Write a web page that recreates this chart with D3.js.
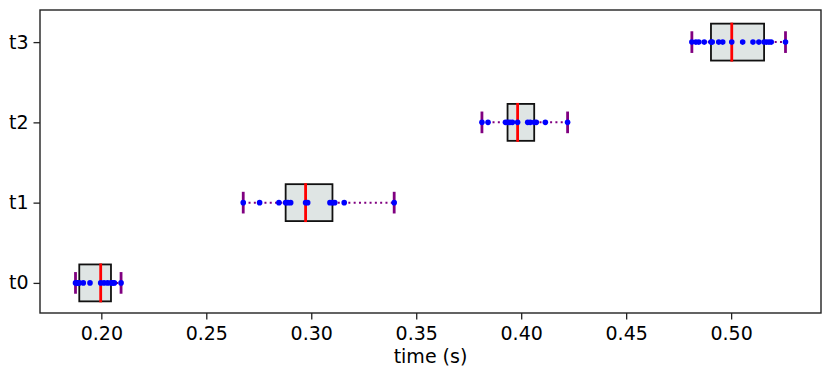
<!DOCTYPE html>
<html>
<head>
<meta charset="utf-8">
<script src="https://cdn.jsdelivr.net/npm/d3@7"></script>
<style>
  body { margin: 0; background: #fff; }
  svg text { font-family: "DejaVu Sans", sans-serif; }
</style>
</head>
<body>
<div id="chart"></div>
<script>
// categories (y axis) and the measured run times for each
var categories = ["t0", "t1", "t2", "t3"];

var t0 = [0.1877, 0.1883, 0.1889, 0.1895, 0.1914, 0.1946, 0.1997, 0.2013, 0.2030, 0.2046, 0.2055, 0.2062, 0.2094];
var t1 = [0.2676, 0.2754, 0.2846, 0.2878, 0.2889, 0.2902, 0.2973, 0.2983, 0.3089, 0.3101, 0.3112, 0.3157, 0.3395];
var t2 = [0.3813, 0.3842, 0.3925, 0.3935, 0.3946, 0.3958, 0.3983, 0.4031, 0.4043, 0.4062, 0.4072, 0.4115, 0.4221];
var t3 = [0.4813, 0.4832, 0.4846, 0.4872, 0.4904, 0.4910, 0.4941, 0.4960, 0.5003, 0.5055, 0.5104, 0.5132, 0.5157, 0.5168, 0.5180, 0.5191, 0.5259];

var xTicks = [0.20, 0.25, 0.30, 0.35, 0.40, 0.45, 0.50];
var xLabel = "time (s)";

var series = [t0, t1, t2, t3];

var width = 830, height = 378;
var margin = {top: 10, right: 9, bottom: 65, left: 40};
var fontSize = "19px";

var svg = d3.select("#chart")
  .append("svg")
    .attr("width", width)
    .attr("height", height);

// x domain like matplotlib: data range plus 5% each side
var all = d3.merge(series);
var lo = d3.min(all), hi = d3.max(all), pad = (hi - lo) * 0.05;

var x = d3.scaleLinear()
  .domain([lo - pad, hi + pad])
  .range([margin.left, width - margin.right]);

var y = d3.scaleLinear()
  .domain([-0.375, 3.4])
  .range([height - margin.bottom, margin.top]);

var boxHalf = 0.23, capHalf = 0.135;

// box stats
var stats = series.map(function(d, i) {
  var s = d.slice().sort(d3.ascending);
  return {
    i: i,
    values: s,
    q1: d3.quantile(s, 0.25),
    med: d3.quantile(s, 0.5),
    q3: d3.quantile(s, 0.75),
    min: s[0],
    max: s[s.length - 1]
  };
});

var g = svg.selectAll(".box")
  .data(stats)
  .enter().append("g")
    .attr("class", "box");

// whiskers (dotted purple)
g.each(function(d) {
  var sel = d3.select(this);
  [[d.min, d.q1], [d.q3, d.max]].forEach(function(seg) {
    sel.append("line")
      .attr("x1", x(seg[0])).attr("x2", x(seg[1]))
      .attr("y1", y(d.i)).attr("y2", y(d.i))
      .attr("stroke", "purple")
      .attr("stroke-width", 2)
      .attr("stroke-dasharray", "2,3.3");
  });
  // caps
  [d.min, d.max].forEach(function(v) {
    sel.append("line")
      .attr("x1", x(v)).attr("x2", x(v))
      .attr("y1", y(d.i - capHalf)).attr("y2", y(d.i + capHalf))
      .attr("stroke", "purple")
      .attr("stroke-width", 2.8);
  });
});

g.append("rect")
  .attr("x", function(d) { return x(d.q1); })
  .attr("width", function(d) { return x(d.q3) - x(d.q1); })
  .attr("y", function(d) { return y(d.i + boxHalf); })
  .attr("height", function(d) { return y(d.i - boxHalf) - y(d.i + boxHalf); })
  .attr("fill", "#dfe5e4")
  .attr("stroke", "#111")
  .attr("stroke-width", 1.8);

g.append("line")
  .attr("x1", function(d) { return x(d.med); })
  .attr("x2", function(d) { return x(d.med); })
  .attr("y1", function(d) { return y(d.i + boxHalf) - 1; })
  .attr("y2", function(d) { return y(d.i - boxHalf) + 1; })
  .attr("stroke", "red")
  .attr("stroke-width", 2.8);

// raw points
g.each(function(d) {
  d3.select(this).selectAll("circle")
    .data(d.values)
    .enter().append("circle")
      .attr("cx", function(v) { return x(v); })
      .attr("cy", y(d.i))
      .attr("r", 2.8)
      .attr("fill", "blue");
});

// frame
svg.append("rect")
  .attr("x", margin.left)
  .attr("y", margin.top)
  .attr("width", width - margin.left - margin.right)
  .attr("height", height - margin.top - margin.bottom)
  .attr("fill", "none")
  .attr("stroke", "#222")
  .attr("stroke-width", 1.4);

// axes
var xAxis = svg.append("g")
  .attr("transform", "translate(0," + (height - margin.bottom) + ")")
  .call(d3.axisBottom(x).tickValues(xTicks).tickFormat(d3.format(".2f")).tickSize(6.5).tickPadding(7));

var yAxis = svg.append("g")
  .attr("transform", "translate(" + margin.left + ",0)")
  .call(d3.axisLeft(y).tickValues([0, 1, 2, 3]).tickFormat(function(d) { return categories[d]; }).tickSize(6.5).tickPadding(5));

[xAxis, yAxis].forEach(function(a) {
  a.select(".domain").remove();
  a.selectAll("text").style("font-size", fontSize).attr("fill", "#000");
  a.selectAll("line").attr("stroke", "#222").attr("stroke-width", 1.3);
});

svg.append("text")
  .attr("x", (margin.left + width - margin.right) / 2)
  .attr("y", 363)
  .attr("text-anchor", "middle")
  .style("font-size", fontSize)
  .text(xLabel);
</script>
</body>
</html>
